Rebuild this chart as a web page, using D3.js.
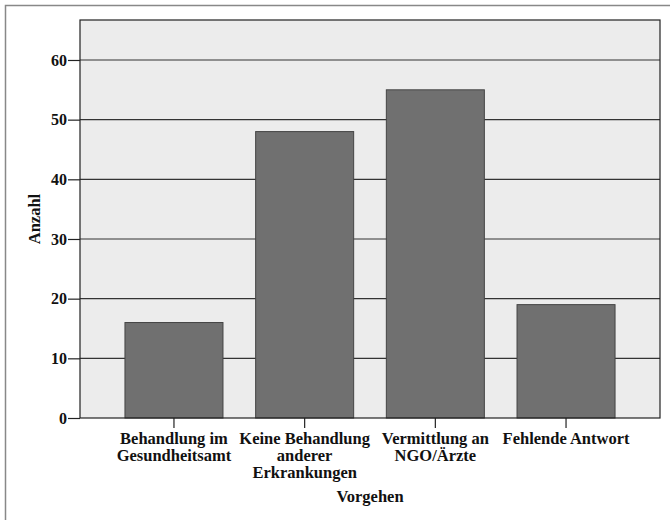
<!DOCTYPE html>
<html><head><meta charset="utf-8">
<script src="https://cdn.jsdelivr.net/npm/d3@7"></script>
<style>body{margin:0;background:#fff}svg{display:block}</style>
</head><body>
<script>
const categories = ["Behandlung im Gesundheitsamt","Keine Behandlung anderer Erkrankungen","Vermittlung an NGO/Ärzte","Fehlende Antwort"];
const categoryLines = [["Behandlung im","Gesundheitsamt"],["Keine Behandlung","anderer","Erkrankungen"],["Vermittlung an","NGO/Ärzte"],["Fehlende Antwort"]];
const values = [16,48,55,19];
const yTicks = [0,10,20,30,40,50,60];
const xTitle = "Vorgehen", yTitle = "Anzahl";

const FONT = "Liberation Serif";
const FS = 16.5;
const W=670,H=520;
const svg=d3.select("body").append("svg").attr("width",W).attr("height",H)
  .attr("font-family",FONT).attr("font-weight","bold");
svg.append("rect").attr("x",5.5).attr("y",5.5).attr("width",W).attr("height",H).attr("fill","#fff").attr("stroke","#888").attr("stroke-width",1.5);
const L=80,R=660,T=20,B=418;
const y=d3.scaleLinear().domain([0,66.7]).range([B,T]);
const x=d3.scaleBand().domain(categories).range([L,R]).paddingInner(0.25).paddingOuter(0.344);
svg.append("rect").attr("x",L).attr("y",T).attr("width",R-L).attr("height",B-T).attr("fill","#ececec");
svg.append("g").selectAll("line").data(yTicks.filter(d=>d>0)).join("line")
 .attr("x1",L).attr("x2",R).attr("y1",d=>y(d)).attr("y2",d=>y(d)).attr("stroke","#333").attr("stroke-width",1.2);
svg.append("g").selectAll("rect").data(values).join("rect")
 .attr("x",(d,i)=>x(categories[i])).attr("width",x.bandwidth()).attr("y",d=>y(d)).attr("height",d=>B-y(d))
 .attr("fill","#707070").attr("stroke","#444").attr("stroke-width",1);
svg.append("rect").attr("x",L).attr("y",T).attr("width",R-L).attr("height",B-T).attr("fill","none").attr("stroke","#222").attr("stroke-width",1.2);
const ya=svg.append("g").attr("transform",`translate(${L},0)`).call(d3.axisLeft(y).tickValues(yTicks).tickSize(12).tickPadding(1).tickFormat(d3.format("d")));
ya.select(".domain").remove();
ya.selectAll("line").attr("stroke","#222").attr("stroke-width",1.2);
ya.selectAll("text").attr("font-size",16).attr("fill","#111").attr("font-family",FONT).attr("font-weight","bold");
const xa=svg.append("g").attr("transform",`translate(0,${B})`).call(d3.axisBottom(x).tickSize(10).tickFormat(""));
xa.select(".domain").remove();
xa.selectAll("line").attr("stroke","#222").attr("stroke-width",1.2);
categories.forEach((c,i)=>{
  const cx=x(c)+x.bandwidth()/2;
  const t=svg.append("text").attr("text-anchor","middle").attr("font-size",FS).attr("fill","#111").attr("font-family",FONT).attr("font-weight","bold");
  categoryLines[i].forEach((ln,j)=>t.append("tspan").attr("x",cx).attr("y",444+j*17).text(ln));
});
svg.append("text").attr("text-anchor","middle").attr("font-size",FS).attr("fill","#111").attr("font-family",FONT).attr("font-weight","bold").attr("x",(L+R)/2).attr("y",502).text(xTitle);
svg.append("text").attr("text-anchor","middle").attr("font-size",FS).attr("fill","#111").attr("font-family",FONT).attr("font-weight","bold").attr("transform",`translate(40,${(T+B)/2}) rotate(-90)`).text(yTitle);
</script>
</body></html>
